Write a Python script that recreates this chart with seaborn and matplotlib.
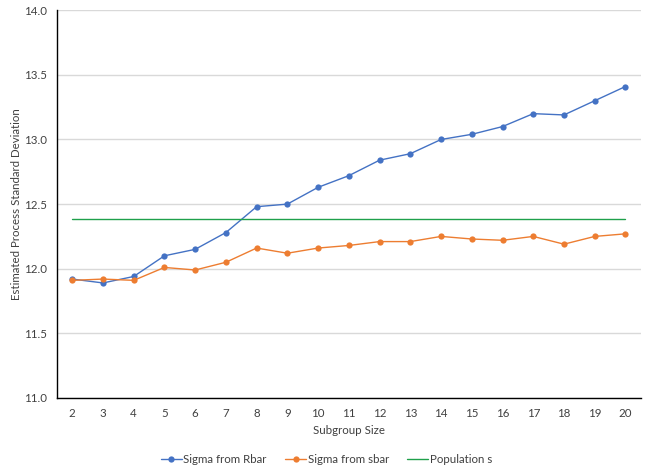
import numpy as np
import pandas as pd
import matplotlib
matplotlib.use("Agg")
import matplotlib.pyplot as plt
import seaborn as sns

# Data
subgroup_size = list(range(2, 21))
sigma_rbar = [11.92, 11.89, 11.94, 12.10, 12.15, 12.28, 12.48, 12.50, 12.63, 12.72,
              12.84, 12.89, 13.00, 13.04, 13.10, 13.20, 13.19, 13.30, 13.41]
sigma_sbar = [11.91, 11.92, 11.91, 12.01, 11.99, 12.05, 12.16, 12.12, 12.16, 12.18,
              12.21, 12.21, 12.25, 12.23, 12.22, 12.25, 12.19, 12.25, 12.27]
population_s = 12.387

df = pd.DataFrame({
    "size": subgroup_size,
    "Sigma from Rbar": sigma_rbar,
    "Sigma from sbar": sigma_sbar,
    "Population s": [population_s] * len(subgroup_size),
})

sns.set_style("white")
plt.rcParams["font.family"] = ["Lato", "DejaVu Sans"]
fs = 8.3
txt = "#404040"

fig, ax = plt.subplots(figsize=(6.46, 4.66), dpi=100)
fig.subplots_adjust(left=0.088, right=0.992, top=0.978, bottom=0.146)

sns.lineplot(data=df, x="size", y="Sigma from Rbar", ax=ax, color="#4472C4",
             marker="o", markersize=4.5, markeredgewidth=0, linewidth=1.0,
             label="Sigma from Rbar")
sns.lineplot(data=df, x="size", y="Sigma from sbar", ax=ax, color="#ED7D31",
             marker="o", markersize=4.5, markeredgewidth=0, linewidth=1.0,
             label="Sigma from sbar")
sns.lineplot(data=df, x="size", y="Population s", ax=ax, color="#1FA04B",
             linewidth=1.0, label="Population s")

ax.set_xlim(1.5, 20.5)
ax.set_ylim(11.0, 14.0)
yt = np.arange(11.0, 14.01, 0.5)
ax.set_yticks(yt)
ax.set_yticklabels([f"{v:.1f}" for v in yt])
ax.set_xticks(subgroup_size)
ax.set_xticks(np.arange(1.5, 20.6, 1.0), minor=True)
ax.tick_params(axis="x", which="major", length=0, labelsize=fs, pad=7.5, labelcolor=txt)
ax.tick_params(axis="x", which="minor", length=4, width=0.8, color="black", direction="out")
ax.tick_params(axis="y", length=4, width=0.8, color="black", direction="out",
               labelsize=fs, labelcolor=txt, pad=3)
ax.yaxis.grid(True, color="#D9D9D9", linewidth=1.0)
ax.set_axisbelow(True)

for s in ["top", "right"]:
    ax.spines[s].set_visible(False)
for s in ["left", "bottom"]:
    ax.spines[s].set_color("black")
    ax.spines[s].set_linewidth(1.0)

ax.set_xlabel("Subgroup Size", fontsize=fs, color=txt, labelpad=4)
ax.set_ylabel("Estimated Process Standard Deviation", fontsize=fs, color=txt, labelpad=1.5)

ax.legend(loc="upper center", bbox_to_anchor=(0.462, -0.118), ncol=3, frameon=False,
          fontsize=fs, handlelength=1.8, handletextpad=0.15, columnspacing=1.6,
          labelcolor=txt)

fig.savefig("out.png", dpi=100)
